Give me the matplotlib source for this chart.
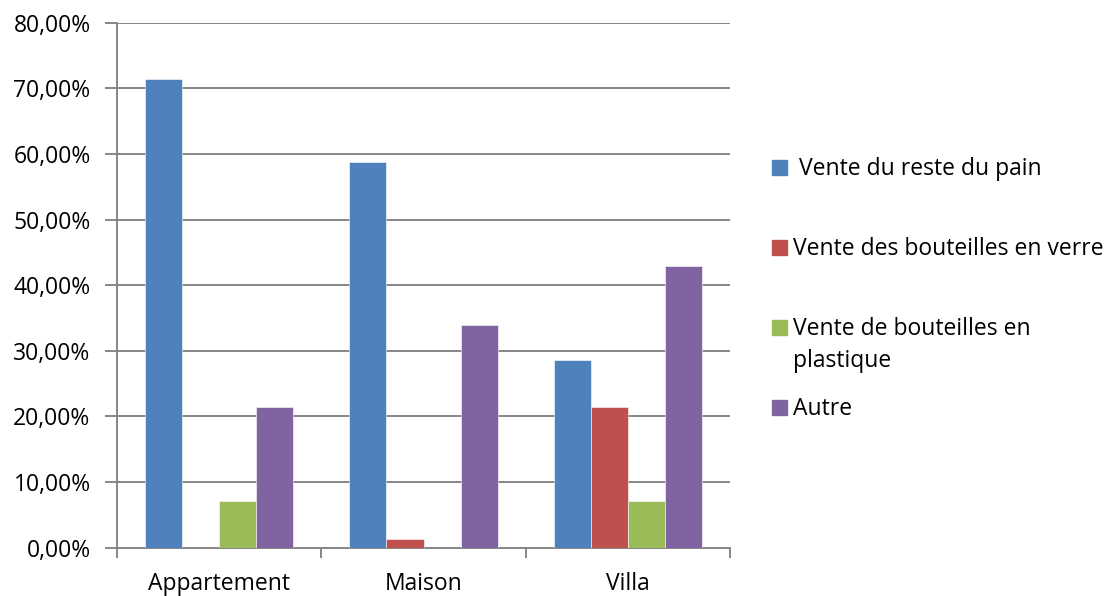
import numpy as np
import matplotlib
matplotlib.use('Agg')
import matplotlib.pyplot as plt
from matplotlib.patches import Rectangle
from matplotlib.ticker import FuncFormatter

plt.rcParams['font.family'] = ['Open Sans', 'DejaVu Sans']

categories = ['Appartement', 'Maison', 'Villa']
series_names = [' Vente du reste du pain', 'Vente des bouteilles en verre',
                'Vente de bouteilles en\nplastique', 'Autre']
pain = [71.43, 58.82, 28.57]
verre = [0.0, 1.3, 21.43]
plastique = [7.14, 0.0, 7.14]
autre = [21.43, 33.9, 42.86]
colors = ['#4F81BD', '#C0504D', '#9BBB59', '#8064A2']

W, H = 1110, 596
fs = 16.5

fig = plt.figure(figsize=(W / 100, H / 100), dpi=100)
ax = fig.add_axes([117 / W, 1 - 547.5 / H, (730 - 117) / W, (547.5 - 22.7) / H])

x = np.arange(len(categories))
w = 1 / 5.5
for i, vals in enumerate([pain, verre, plastique, autre]):
    ax.bar(x + (i - 1.5) * w, vals, width=w, color=colors[i],
           edgecolor='white', linewidth=0.4, zorder=3)

ax.set_xlim(-0.5, 2.5)
ax.set_ylim(0, 80)
ax.set_yticks(np.arange(0, 81, 10))
ax.yaxis.set_major_formatter(FuncFormatter(lambda v, p: f'{v:.2f}%'.replace('.', ',')))
ax.grid(axis='y', color='#868686', linewidth=1.4, zorder=0)

ax.set_xticks([-0.5, 0.5, 1.5, 2.5])
ax.set_xticklabels([])
ax.set_xticks(x, minor=True)
ax.set_xticklabels(categories, minor=True)
ax.tick_params(axis='x', which='major', length=7, width=1.4, color='#868686')
ax.tick_params(axis='x', which='minor', length=0, pad=18, labelsize=fs)
ax.tick_params(axis='y', length=9, width=1.4, color='#868686', labelsize=fs, pad=10)

for s in ['top', 'right']:
    ax.spines[s].set_visible(False)
for s in ['left', 'bottom']:
    ax.spines[s].set_color('#868686')
    ax.spines[s].set_linewidth(1.4)

# legend drawn by hand so the two-line entry keeps its box on the first line
baselines = [175, 255, 335, 415]
for c, name, yb in zip(colors, series_names, baselines):
    fig.patches.append(Rectangle((772 / W, 1 - yb / H), 15 / W, 15 / H,
                                 transform=fig.transFigure, color=c))
    for k, line in enumerate(name.split('\n')):
        fig.text(793 / W, 1 - (yb + 32 * k) / H, line, fontsize=fs, va='baseline')

plt.savefig('out.png', dpi=100)
